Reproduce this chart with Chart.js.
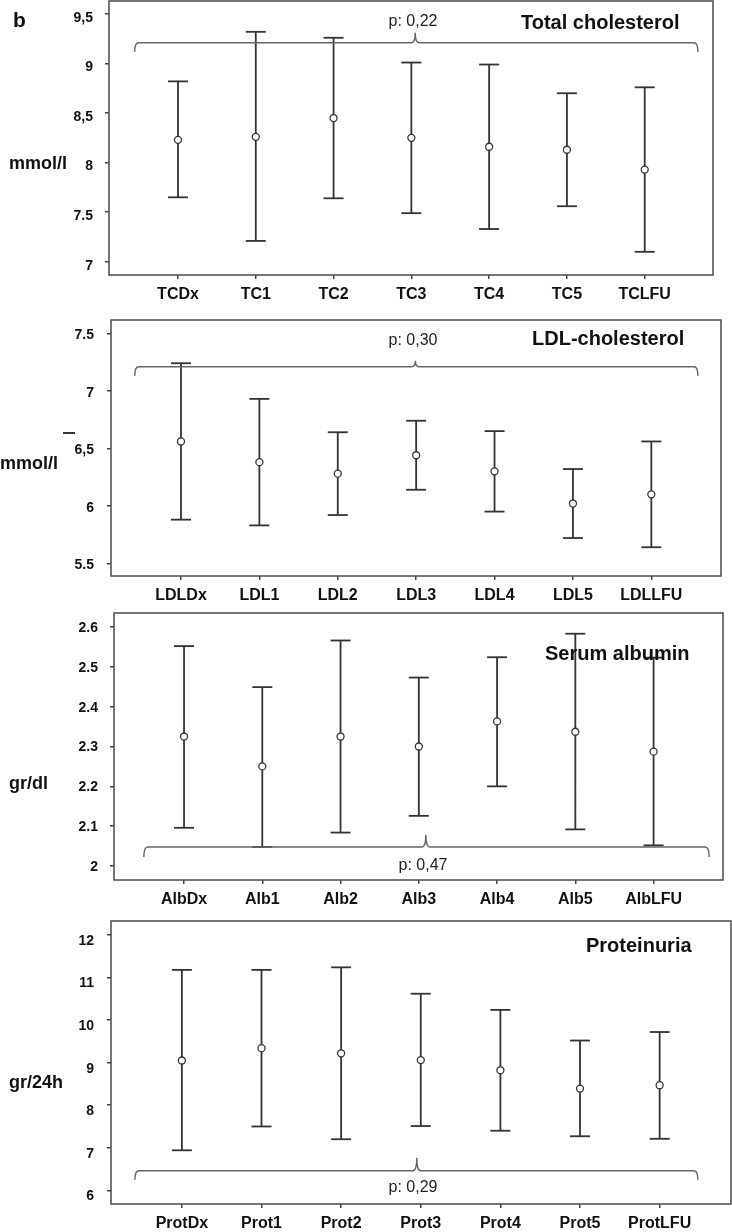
<!DOCTYPE html>
<html><head><meta charset="utf-8">
<script src="https://cdn.jsdelivr.net/npm/chart.js@4.4.0/dist/chart.umd.min.js"></script>
<style>
html,body{margin:0;padding:0;background:#fff;}
body{width:732px;height:1232px;position:relative;overflow:hidden;font-family:"Liberation Sans",Arial,sans-serif;color:#111;}
.cv{position:absolute;left:0;}
.t{position:absolute;white-space:nowrap;line-height:1;}
.bd{font-weight:bold;}
.c{transform:translateX(-50%);}
</style></head><body>
<canvas id="c1" class="cv" width="732" height="310" style="top:0px"></canvas>
<canvas id="c2" class="cv" width="732" height="300" style="top:310px"></canvas>
<canvas id="c3" class="cv" width="732" height="304" style="top:606px"></canvas>
<canvas id="c4" class="cv" width="732" height="322" style="top:910px"></canvas>

<div class="t bd" style="left:13px;top:9px;font-size:21px;">b</div>
<div class="t bd" style="left:521px;top:12px;font-size:20px;">Total cholesterol</div>
<div class="t c" style="left:413px;top:13px;font-size:16px;color:#222;">p: 0,22</div>
<div class="t bd" style="left:9px;top:154px;font-size:18px;">mmol/l</div>

<div style="position:absolute;left:63px;top:432px;width:12px;height:2px;background:#333;"></div>
<div class="t bd" style="left:532px;top:328px;font-size:20px;">LDL-cholesterol</div>
<div class="t c" style="left:413px;top:332px;font-size:16px;color:#222;">p: 0,30</div>
<div class="t bd" style="left:0px;top:454px;font-size:18px;">mmol/l</div>

<div class="t bd" style="left:545px;top:643px;font-size:20px;">Serum albumin</div>
<div class="t c" style="left:423px;top:857px;font-size:16px;color:#222;">p: 0,47</div>
<div class="t bd" style="left:9px;top:774px;font-size:18px;">gr/dl</div>

<div class="t bd" style="left:586px;top:935px;font-size:20px;">Proteinuria</div>
<div class="t c" style="left:413px;top:1179px;font-size:16px;color:#222;">p: 0,29</div>
<div class="t bd" style="left:9px;top:1073px;font-size:18px;">gr/24h</div>

<script>
// ---- data ----
const tcCategories = ['TCDx','TC1','TC2','TC3','TC4','TC5','TCLFU'];
const tcMean = [8.23, 8.26, 8.45, 8.25, 8.16, 8.13, 7.93];
const tcLow  = [7.65, 7.21, 7.64, 7.49, 7.33, 7.56, 7.10];
const tcHigh = [8.82, 9.32, 9.26, 9.01, 8.99, 8.70, 8.76];
const tcTicks = [7, 7.5, 8, 8.5, 9, 9.5];
const tcTickLabels = ['7', '7.5', '8', '8,5', '9', '9,5'];

const ldlCategories = ['LDLDx','LDL1','LDL2','LDL3','LDL4','LDL5','LDLLFU'];
const ldlMean = [6.56, 6.38, 6.28, 6.44, 6.30, 6.02, 6.10];
const ldlLow  = [5.88, 5.83, 5.92, 6.14, 5.95, 5.72, 5.64];
const ldlHigh = [7.24, 6.93, 6.64, 6.74, 6.65, 6.32, 6.56];
const ldlTicks = [5.5, 6, 6.5, 7, 7.5];
const ldlTickLabels = ['5.5', '6', '6,5', '7', '7.5'];

const albCategories = ['AlbDx','Alb1','Alb2','Alb3','Alb4','Alb5','AlbLFU'];
const albMean = [2.325, 2.250, 2.325, 2.300, 2.363, 2.337, 2.287];
const albLow  = [2.096, 2.048, 2.084, 2.126, 2.200, 2.092, 2.052];
const albHigh = [2.552, 2.449, 2.566, 2.473, 2.524, 2.583, 2.523];
const albTicks = [2, 2.1, 2.2, 2.3, 2.4, 2.5, 2.6];
const albTickLabels = ['2', '2.1', '2.2', '2.3', '2.4', '2.5', '2.6'];

const protCategories = ['ProtDx','Prot1','Prot2','Prot3','Prot4','Prot5','ProtLFU'];
const protMean = [9.05, 9.34, 9.22, 9.06, 8.82, 8.39, 8.47];
const protLow  = [6.94, 7.50, 7.20, 7.51, 7.40, 7.27, 7.21];
const protHigh = [11.18, 11.18, 11.24, 10.62, 10.24, 9.52, 9.72];
const protTicks = [6, 7, 8, 9, 10, 11, 12];
const protTickLabels = ['6', '7', '8', '9', '10', '11', '12'];

// brace (p-value bracket) levels, in axis units
const braceLevels = [9.21, 7.21, 2.048, 6.46];

// ---- drawing ----
const FONT = '"Liberation Sans", Arial, sans-serif';
const INK = '#333';

const framePlugin = {
  id: 'frame',
  beforeDatasetsDraw(chart) {
    const a = chart.chartArea, ctx = chart.ctx;
    ctx.save();
    ctx.strokeStyle = '#4a4a4a';
    ctx.lineWidth = 1.5;
    ctx.strokeRect(a.left, a.top, a.right - a.left, a.bottom - a.top);
    ctx.restore();
  }
};

const bracePlugin = {
  id: 'brace',
  afterDatasetsDraw(chart, args, o) {
    if (!o || o.y === undefined) return;
    const xs = chart.scales.x, ys = chart.scales.y, ctx = chart.ctx;
    const y = ys.getPixelForValue(o.y);
    const x0 = xs.getPixelForValue(o.x0), x1 = xs.getPixelForValue(o.x1), xm = xs.getPixelForValue(o.xm);
    ctx.save();
    ctx.strokeStyle = '#666';
    ctx.lineWidth = 1.5;
    ctx.beginPath();
    ctx.moveTo(x0, y + o.drop);
    ctx.quadraticCurveTo(x0, y, x0 + 4, y);
    ctx.lineTo(xm - 4, y);
    ctx.quadraticCurveTo(xm, y, xm, y - o.peak);
    ctx.quadraticCurveTo(xm, y, xm + 4, y);
    ctx.lineTo(x1 - 4, y);
    ctx.quadraticCurveTo(x1, y, x1, y + o.drop);
    ctx.stroke();
    ctx.restore();
  }
};

function makePanel(id, cats, mean, low, high, yTicks, yLabels, cfg) {
  const whisker = [];
  cats.forEach((c, i) => {
    whisker.push({x: i, y: low[i]}, {x: i, y: high[i]}, {x: i, y: null});
  });
  const means = cats.map((c, i) => ({x: i, y: mean[i]}));
  new Chart(document.getElementById(id), {
    type: 'scatter',
    data: {datasets: [
      {data: means, showLine: false, pointStyle: 'circle', pointRadius: 3.5,
       pointBackgroundColor: '#fff', pointBorderColor: INK, pointBorderWidth: 1.3},
      {data: whisker, showLine: true, spanGaps: false, borderColor: INK, borderWidth: 1.8,
       pointStyle: 'line', pointRadius: 10, pointBorderColor: INK, pointBorderWidth: 1.8,
       pointBackgroundColor: INK}
    ]},
    options: {
      responsive: false, animation: false, events: [],
      layout: {autoPadding: false, padding: {top: cfg.padTop, right: cfg.padRight, bottom: 0, left: 0}},
      plugins: {legend: {display: false}, tooltip: {enabled: false}, brace: cfg.brace},
      scales: {
        x: {
          type: 'linear', min: cfg.xMin, max: cfg.xMax,
          afterBuildTicks: s => { s.ticks = cats.map((c, i) => ({value: i})); },
          afterFit: s => { s.height = cfg.xHeight; s.paddingLeft = 0; s.paddingRight = 0; },
          grid: {display: true, drawOnChartArea: false, drawTicks: true, tickLength: 4, tickColor: '#444', lineWidth: 1.5},
          border: {display: false},
          ticks: {callback: v => cats[Math.round(v)], font: {family: FONT, size: 16, weight: 'bold'},
                  color: '#111', padding: 6, maxRotation: 0, autoSkip: false}
        },
        y: {
          type: 'linear', min: cfg.yMin, max: cfg.yMax,
          afterBuildTicks: s => { s.ticks = yTicks.map(v => ({value: v})); },
          afterFit: s => { s.width = cfg.yWidth; s.paddingTop = 0; s.paddingBottom = 0; },
          grid: {display: true, drawOnChartArea: false, drawTicks: true, tickLength: 4, tickColor: '#444', lineWidth: 1.5},
          border: {display: false},
          ticks: {callback: (v, i) => yLabels[i], font: {family: FONT, size: 14, weight: 'bold'},
                  color: '#111', padding: cfg.yPad, labelOffset: cfg.labelOffset, autoSkip: false}
        }
      }
    },
    plugins: [framePlugin, bracePlugin]
  });
}

makePanel('c1', tcCategories, tcMean, tcLow, tcHigh, tcTicks, tcTickLabels, {
  padTop: 1, padRight: 19, yWidth: 109, xHeight: 35, xMin: -0.887, xMax: 6.878,
  yMin: 6.866, yMax: 9.631, yPad: 12, labelOffset: 4,
  brace: {y: braceLevels[0], x0: -0.557, x1: 6.684, xm: 3.05, drop: 9, peak: 10}
});
makePanel('c2', ldlCategories, ldlMean, ldlLow, ldlHigh, ldlTicks, ldlTickLabels, {
  padTop: 10, padRight: 11, yWidth: 111, xHeight: 34, xMin: -0.893, xMax: 6.889,
  yMin: 5.39, yMax: 7.616, yPad: 13, labelOffset: 2,
  brace: {y: braceLevels[1], x0: -0.59, x1: 6.595, xm: 2.99, drop: 9, peak: 6}
});
makePanel('c3', albCategories, albMean, albLow, albHigh, albTicks, albTickLabels, {
  padTop: 7, padRight: 9, yWidth: 114, xHeight: 30, xMin: -0.895, xMax: 6.887,
  yMin: 1.965, yMax: 2.635, yPad: 12, labelOffset: 1,
  brace: {y: braceLevels[2], x0: -0.514, x1: 6.71, xm: 3.09, drop: 10, peak: 12}
});
makePanel('c4', protCategories, protMean, protLow, protHigh, protTicks, protTickLabels, {
  padTop: 11, padRight: 1, yWidth: 111, xHeight: 28, xMin: -0.89, xMax: 6.896,
  yMin: 5.678, yMax: 12.329, yPad: 13, labelOffset: 6,
  brace: {y: braceLevels[3], x0: -0.59, x1: 6.48, xm: 2.95, drop: 9, peak: 13}
});
</script>
</body></html>
